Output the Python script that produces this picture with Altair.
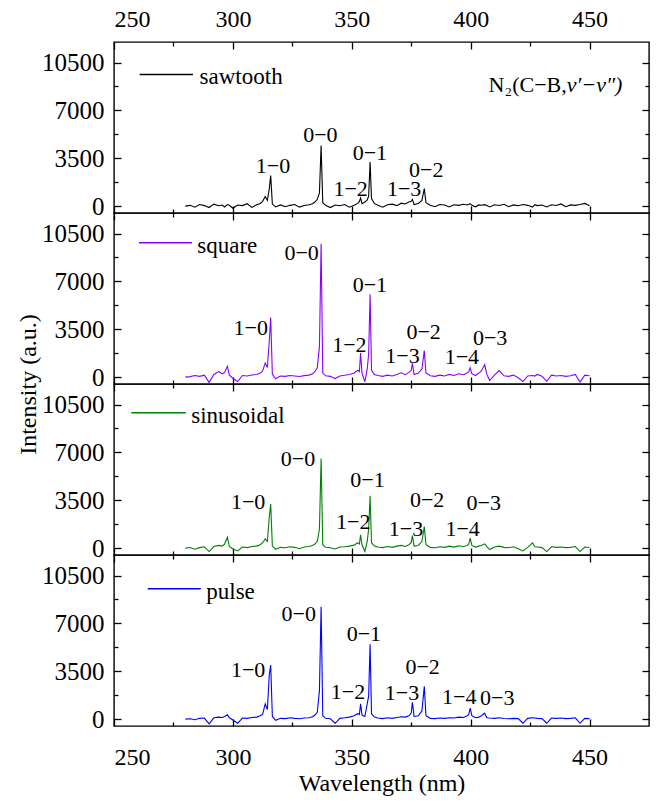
import altair as alt
import pandas as pd

FONT = "Liberation Serif"
FS_TEXT = 22      # band labels
FS_LEG = 23       # legend text
FS_XLAB = 24      # x tick labels
FS_YLAB = 25      # y tick labels
FS_TITLE = 24     # axis titles

# ---------------- data ----------------
wavelength = [
    280, 282, 284, 286, 288, 290, 292, 294, 295.5, 296.5,
    297.7, 298.5, 300, 302, 304, 306, 308, 310, 311.5, 312.5,
    313.6, 314.5, 315.3, 315.9, 316.6, 318, 320, 322, 324, 326,
    328, 330, 332, 333.5, 334.5, 335.5, 336.4, 337.1, 337.8, 339,
    341, 343, 345, 347, 349, 351, 352.5, 353.2, 353.7, 354.3,
    355.5, 356.5, 357.1, 357.7, 358.3, 359.5, 361, 363, 365, 367,
    369, 370.8, 372.5, 374, 375.0, 375.5, 376.2, 378, 379.5, 380.5,
    381.2, 383, 385, 387, 389, 391, 393, 395, 397, 398.5,
    399.2, 399.8, 400.5, 402, 403.5, 404.5, 405.9, 406.8, 408, 410,
    412, 414, 416, 418, 420, 422, 424, 426, 427, 428,
    430, 432, 434, 436, 438, 440, 442, 444, 446, 448,
    450,
]

sawtooth = [
    0, 60, -80, 120, 40, -100, 150, 30, 80, -60,
    120, 60, -150, 80, 40, 180, -90, 110, 200, 350,
    700, 420, 1260, 2230, 150, -60, 90, -40, 60, 120,
    -70, 50, 100, 180, 300, 500, 970, 4440, 250, 60,
    -100, 80, 30, 120, -80, 60, 200, 350, 600, 180,
    300, 450, 730, 3225, 550, 200, 60, -80, 100, 150,
    40, 220, 160, 300, 350, 485, 120, 200, 420, 1285,
    250, 60, -40, 120, 80, -60, 100, 60, 140, 90,
    120, 180, 60, -50, 90, 70, 110, 40, -60, 100,
    50, 140, -40, 90, 30, 120, 60, -70, 110, 40,
    80, -60, 100, 50, 160, -40, 90, 60, 120, 200,
    30,
]

square = [
    0, 40, 120, 60, 150, -380, 200, 410, 250, 350,
    800, 150, -80, -320, 120, 90, 160, 200, 300, 450,
    1040, 700, 2620, 4365, 200, -120, 80, 60, 120, 90,
    50, 110, 150, 250, 400, 700, 2230, 9750, 300, 100,
    60, -100, 90, 140, 200, 300, 500, 400, 1770, 300,
    -350, 600, 1700, 6060, 500, 200, 120, 60, 150, 90,
    200, 315, 180, 350, 500, 1020, 200, 300, 600, 1940,
    300, 100, 60, 150, 90, 200, 120, 250, 180, 300,
    400, 680, 250, 120, 300, 450, 920, 200, -250, 150,
    480, 100, 60, 150, -40, -320, 90, 120, 80, 200,
    60, -300, 150, 90, 120, 60, 100, 200, -350, 150,
    100,
]

sinusoidal = [
    0, 50, -80, 40, 100, -250, 120, 200, 150, 300,
    800, 120, -60, -200, 80, 40, 120, 150, 250, 400,
    680, 500, 2255, 3225, 150, -80, 60, 30, 100, 60,
    -40, 80, 120, 200, 300, 500, 1400, 6550, 250, 60,
    30, -60, 80, 100, 150, 220, 400, 300, 970, 250,
    -250, 500, 1400, 3830, 400, 150, 80, 40, 120, 60,
    150, 200, 120, 250, 400, 920, 150, 200, 500, 1575,
    250, 60, 30, 100, 60, 150, 80, 180, 120, 200,
    300, 730, 200, 80, 150, 200, 315, 120, -100, 80,
    150, 60, 30, 100, -40, -200, 60, 390, 100, 80,
    40, -250, 100, 60, 80, 40, 60, 120, -250, 80,
    50,
]

pulse = [
    0, 30, -40, 60, 80, -350, 100, 150, 120, 200,
    315, 100, -60, -300, 80, 60, 120, 150, 250, 350,
    1115, 700, 3225, 3950, 200, -80, 60, 40, 100, 60,
    30, 80, 100, 180, 300, 500, 2085, 8220, 250, 60,
    30, -300, 60, 100, 150, 250, 400, 350, 1115, 300,
    200, 1115, 1700, 5480, 400, 150, 80, 40, 100, 60,
    120, 180, 150, 250, 450, 1240, 200, 250, 600, 2400,
    250, 60, 40, 80, 60, 100, 80, 150, 120, 250,
    350, 800, 250, 100, 150, 250, 435, 100, 80, 60,
    100, 50, 30, 60, 40, -300, 60, 100, 80, 60,
    40, -300, 80, 60, 80, 40, 60, 100, -300, 60,
    40,
]

series_names = ["sawtooth", "square", "sinusoidal", "pulse"]
series_colors = ["#000000", "#8B00FF", "#008000", "#0000FF"]

# band labels
ann_labels_6 = ["1−0", "0−0", "1−2", "0−1", "1−3", "0−2"]
ann_labels_8 = ["1−0", "0−0", "1−2", "0−1", "1−3", "0−2", "1−4", "0−3"]
ann_x_saw = [316.9, 336.8, 349.5, 357.6, 372.0, 381.3]
ann_y_saw = [2960, 5210, 1260, 3880, 1260, 2670]
ann_x_sq = [307.5, 328.9, 349.0, 357.6, 371.3, 380.2, 396.3, 408.2]
ann_y_sq = [3565, 9090, 2350, 6765, 1575, 3320, 1455, 2840]
ann_x_sin = [306.4, 327.4, 350.6, 356.6, 372.8, 381.7, 396.6, 405.5]
ann_y_sin = [3345, 6500, 1940, 4995, 1405, 3515, 1405, 3275]
ann_x_pul = [306.4, 327.7, 348.4, 355.1, 371.1, 379.8, 395.2, 411.2]
ann_y_pul = [3590, 7710, 2010, 6210, 1890, 3830, 1600, 1550]

# legend entries
legend_x1 = [260.8, 260.5, 257.3, 264.2]
legend_x2 = [283.2, 282.8, 280.2, 286.5]
legend_text_x = [286.0, 285.0, 282.5, 288.8]
legend_y = [9627, 9820, 9894, 9530]

# species label (top panel)
species_part1 = ["N₂(C−B,"]
species_part2 = ["v′−v″)"]
species_x = [440.4]
species_y = [8850]

# axes
x_domain = [250, 475]
y_domain = [-500, 12000]
x_major = [250, 300, 350, 400, 450]
x_minor = [275, 325, 375, 425]
y_major = [0, 3500, 7000, 10500]
y_minor = [1750, 5250, 8750]

PANEL_W = 535
PANEL_H = 171
MAJ = 7
MIN = 4

XS = alt.Scale(domain=x_domain, nice=False, zero=False)
YS = alt.Scale(domain=y_domain, nice=False, zero=False)


def make_axis(orient, values, size, show_labels=False, title=None, pad=10, lfs=FS_XLAB, **extra):
    kw = dict(
        orient=orient, values=values, tickSize=size, offset=-size,
        domain=False, grid=False, labels=show_labels, ticks=True,
        tickColor="black", tickWidth=1.3,
        labelFont=FONT, labelFontSize=lfs, labelColor="black",
        labelPadding=pad, format="d", title=title,
        titleFont=FONT, titleFontSize=FS_TITLE, titleFontWeight="normal",
        titleColor="black",
    )
    kw.update(extra)
    return alt.Axis(**kw)


def panel(i, values, ann_labels, ann_x, ann_y):
    name = series_names[i]
    color = series_colors[i]
    top = i == 0
    bottom = i == 3

    if bottom:
        xb = make_axis("bottom", x_major, MAJ, True, "Wavelength (nm)", pad=19, titlePadding=2)
    else:
        xb = make_axis("bottom", x_major, MAJ)
    if i == 1:
        yl = make_axis("left", y_major, MAJ, True, "Intensity (a.u.)", pad=10, lfs=FS_YLAB,
                       titleY=PANEL_H, titlePadding=1)
    else:
        yl = make_axis("left", y_major, MAJ, True, pad=10, lfs=FS_YLAB)
    xt = make_axis("top", x_major, MAJ, top, pad=11)

    df = pd.DataFrame({"wavelength": wavelength, "intensity": values})
    line = alt.Chart(df).mark_line(color=color, strokeWidth=1.1).encode(
        x=alt.X("wavelength:Q", scale=XS, axis=xb),
        y=alt.Y("intensity:Q", scale=YS, axis=yl),
    )

    legdf = pd.DataFrame({"x": [legend_x1[i]], "x2": [legend_x2[i]],
                          "y": [legend_y[i]], "tx": [legend_text_x[i]],
                          "label": [name]})
    rule = alt.Chart(legdf).mark_rule(color=color, strokeWidth=1.4).encode(
        x=alt.X("x:Q", scale=XS, axis=make_axis("bottom", x_minor, MIN)),
        x2="x2:Q",
        y=alt.Y("y:Q", scale=YS, axis=make_axis("left", y_minor, MIN)),
    )
    legtext = alt.Chart(legdf).mark_text(
        align="left", baseline="middle", font=FONT, fontSize=FS_LEG, color="black", dy=3
    ).encode(
        x=alt.X("tx:Q", scale=XS, axis=xt),
        y=alt.Y("y:Q", scale=YS, axis=make_axis("right", y_major, MAJ)),
        text="label:N",
    )

    anndf = pd.DataFrame({"x": ann_x, "y": ann_y, "label": ann_labels})
    ann = alt.Chart(anndf).mark_text(
        align="center", baseline="middle", font=FONT, fontSize=FS_TEXT, color="black"
    ).encode(
        x=alt.X("x:Q", scale=XS, axis=make_axis("top", x_minor, MIN)),
        y=alt.Y("y:Q", scale=YS, axis=make_axis("right", y_minor, MIN)),
        text="label:N",
    )

    layers = [line, rule, legtext, ann]
    if top:
        spdf = pd.DataFrame({"x": species_x, "y": species_y,
                             "a": species_part1, "b": species_part2})
        sp1 = alt.Chart(spdf).mark_text(
            align="right", baseline="middle", font=FONT, fontSize=FS_TEXT, color="black"
        ).encode(x=alt.X("x:Q", scale=XS, axis=None),
                 y=alt.Y("y:Q", scale=YS, axis=None), text="a:N")
        sp2 = alt.Chart(spdf).mark_text(
            align="left", baseline="middle", font=FONT, fontSize=FS_TEXT,
            fontStyle="italic", color="black"
        ).encode(x=alt.X("x:Q", scale=XS, axis=None),
                 y=alt.Y("y:Q", scale=YS, axis=None), text="b:N")
        layers += [sp1, sp2]

    return alt.layer(*layers).resolve_axis(x="independent", y="independent").properties(
        width=PANEL_W, height=PANEL_H
    )


chart = alt.vconcat(
    panel(0, sawtooth, ann_labels_6, ann_x_saw, ann_y_saw),
    panel(1, square, ann_labels_8, ann_x_sq, ann_y_sq),
    panel(2, sinusoidal, ann_labels_8, ann_x_sin, ann_y_sin),
    panel(3, pulse, ann_labels_8, ann_x_pul, ann_y_pul),
    spacing=0,
    bounds="flush",
).properties(
    padding={"left": 15, "top": 6, "right": 5, "bottom": 5},
    background="white",
).configure_view(stroke="black", strokeWidth=1.4)

chart.save("out.html", embed_options={"renderer": "svg", "actions": False})
